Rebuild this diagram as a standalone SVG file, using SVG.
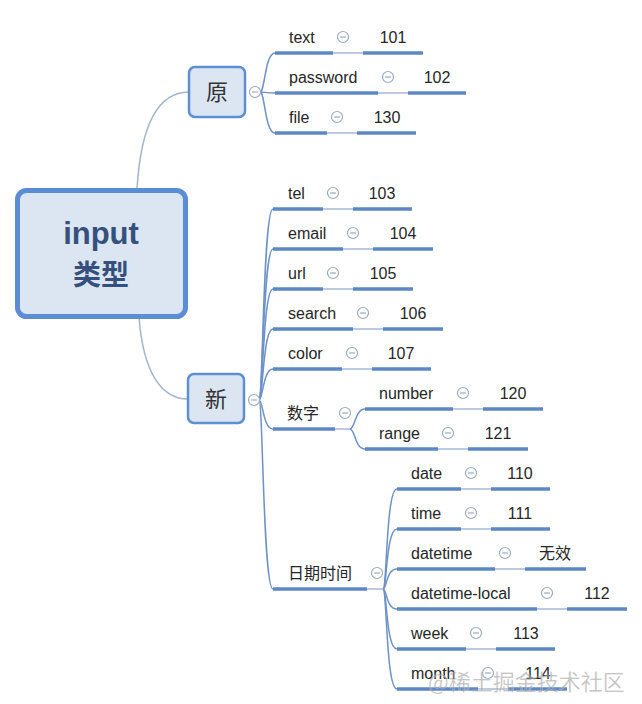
<svg xmlns="http://www.w3.org/2000/svg" width="642" height="704" viewBox="0 0 642 704">
<style>
.t{font-family:"Liberation Sans","Noto Sans CJK SC",sans-serif;font-size:16px;fill:#262626}
.v{font-family:"Liberation Sans","Noto Sans CJK SC",sans-serif;font-size:16px;fill:#262626;text-anchor:middle}
.ul{stroke:#5d88c4;stroke-width:3.5;fill:none}
.thin{stroke:#8ea7c9;stroke-width:1.2;fill:none}
.br{stroke:#6c92c8;stroke-width:1.5;fill:none}
.main{stroke:#a3b5cc;stroke-width:1.5;fill:none}
.col{fill:#fff;stroke:#9aaac0;stroke-width:1.2}
.colm{stroke:#9aaac0;stroke-width:1.2}
.sub{fill:#dce6f2;stroke:#5e8fd2;stroke-width:2.5}
.subt{font-family:"Noto Sans CJK SC","Liberation Sans",sans-serif;font-size:22px;fill:#333;text-anchor:middle}
</style>
<defs>
<g id="cbtn"><circle r="5.5" class="col"/><line x1="-3" y1="0" x2="3" y2="0" class="colm"/></g>
</defs>

<g id="connectors">
<path class="main" d="M137,189 C141,122 160,92 189,92"/>
<path class="main" d="M139,317 C143,370 160,399 188,399"/>
<!-- 原 children -->
<path class="br" d="M260,92 C265,92 265,53 275,53"/>
<path class="br" d="M260,92 C265,92 265,93 275,93"/>
<path class="br" d="M260,92 C265,92 265,133 275,133"/>
<!-- 新 children -->
<path class="br" d="M259,400 C263,400 263,209 273,209"/>
<path class="br" d="M259,400 C263,400 263,249 273,249"/>
<path class="br" d="M259,400 C263,400 263,289 273,289"/>
<path class="br" d="M259,400 C263,400 263,329 273,329"/>
<path class="br" d="M259,400 C263,400 263,369 273,369"/>
<path class="br" d="M259,400 C263,400 263,429 273,429"/>
<path class="br" d="M259,400 C263,400 263,589 273,589"/>
<!-- 数字 children -->
<line class="thin" x1="335" y1="429" x2="350" y2="429"/>
<path class="br" d="M350,429 C355,429 355,409 365,409"/>
<path class="br" d="M350,429 C355,429 355,449 365,449"/>
<!-- 日期时间 children -->
<line class="thin" x1="367" y1="589" x2="383" y2="589"/>
<path class="br" d="M383,589 C387,589 386,489 397,489"/>
<path class="br" d="M383,589 C387,589 386,529 397,529"/>
<path class="br" d="M383,589 C387,589 386,569 397,569"/>
<path class="br" d="M383,589 C387,589 386,609 397,609"/>
<path class="br" d="M383,589 C387,589 386,649 397,649"/>
<path class="br" d="M383,589 C387,589 386,689 397,689"/>
<!-- leaf to value -->
<line class="thin" x1="333" y1="53" x2="363" y2="53"/>
<line class="thin" x1="378" y1="93" x2="408" y2="93"/>
<line class="thin" x1="327" y1="133" x2="357" y2="133"/>
<line class="thin" x1="323" y1="209" x2="353" y2="209"/>
<line class="thin" x1="343" y1="249" x2="373" y2="249"/>
<line class="thin" x1="323" y1="289" x2="353" y2="289"/>
<line class="thin" x1="353" y1="329" x2="383" y2="329"/>
<line class="thin" x1="342" y1="369" x2="372" y2="369"/>
<line class="thin" x1="453" y1="409" x2="483" y2="409"/>
<line class="thin" x1="438" y1="449" x2="468" y2="449"/>
<line class="thin" x1="461" y1="489" x2="491" y2="489"/>
<line class="thin" x1="461" y1="529" x2="491" y2="529"/>
<line class="thin" x1="495" y1="569" x2="525" y2="569"/>
<line class="thin" x1="537" y1="609" x2="567" y2="609"/>
<line class="thin" x1="466" y1="649" x2="496" y2="649"/>
<line class="thin" x1="478" y1="689" x2="508" y2="689"/>
</g>

<g id="root">
<rect x="17.5" y="190.5" width="168" height="126" rx="9" fill="#dce6f2" stroke="#5b8dd4" stroke-width="5"/>
<text x="101" y="244" text-anchor="middle" font-family="Liberation Sans,Noto Sans CJK SC,sans-serif" font-weight="bold" font-size="31" fill="#35507c">input</text>
<text x="101" y="285" text-anchor="middle" font-family="Noto Sans CJK SC,sans-serif" font-weight="bold" font-size="28" fill="#35507c">类型</text>
</g>

<g id="n-yuan">
<rect class="sub" x="189" y="67" width="56" height="50" rx="6"/>
<text class="subt" x="217" y="100">原</text>
<use href="#cbtn" x="255" y="92"/>
</g>
<g id="n-xin">
<rect class="sub" x="188" y="374" width="56" height="49" rx="6"/>
<text class="subt" x="216" y="407">新</text>
<use href="#cbtn" x="254" y="400"/>
</g>

<g id="n-text"><text class="t" x="289" y="43">text</text><line class="ul" x1="275" y1="53" x2="333" y2="53"/><use href="#cbtn" x="343" y="37"/></g>
<g id="v-101"><text class="v" x="393" y="43">101</text><line class="ul" x1="363" y1="53" x2="423" y2="53"/></g>
<g id="n-password"><text class="t" x="289" y="83">password</text><line class="ul" x1="275" y1="93" x2="378" y2="93"/><use href="#cbtn" x="388" y="77"/></g>
<g id="v-102"><text class="v" x="437" y="83">102</text><line class="ul" x1="408" y1="93" x2="466" y2="93"/></g>
<g id="n-file"><text class="t" x="289" y="123">file</text><line class="ul" x1="275" y1="133" x2="327" y2="133"/><use href="#cbtn" x="337" y="117"/></g>
<g id="v-130"><text class="v" x="387" y="123">130</text><line class="ul" x1="357" y1="133" x2="416" y2="133"/></g>

<g id="n-tel"><text class="t" x="288" y="199">tel</text><line class="ul" x1="273" y1="209" x2="323" y2="209"/><use href="#cbtn" x="333" y="193"/></g>
<g id="v-103"><text class="v" x="382" y="199">103</text><line class="ul" x1="353" y1="209" x2="412" y2="209"/></g>
<g id="n-email"><text class="t" x="288" y="239">email</text><line class="ul" x1="273" y1="249" x2="343" y2="249"/><use href="#cbtn" x="353" y="233"/></g>
<g id="v-104"><text class="v" x="403" y="239">104</text><line class="ul" x1="373" y1="249" x2="433" y2="249"/></g>
<g id="n-url"><text class="t" x="288" y="279">url</text><line class="ul" x1="273" y1="289" x2="323" y2="289"/><use href="#cbtn" x="333" y="273"/></g>
<g id="v-105"><text class="v" x="383" y="279">105</text><line class="ul" x1="353" y1="289" x2="413" y2="289"/></g>
<g id="n-search"><text class="t" x="288" y="319">search</text><line class="ul" x1="273" y1="329" x2="353" y2="329"/><use href="#cbtn" x="363" y="313"/></g>
<g id="v-106"><text class="v" x="413" y="319">106</text><line class="ul" x1="383" y1="329" x2="443" y2="329"/></g>
<g id="n-color"><text class="t" x="288" y="359">color</text><line class="ul" x1="273" y1="369" x2="342" y2="369"/><use href="#cbtn" x="352" y="353"/></g>
<g id="v-107"><text class="v" x="401" y="359">107</text><line class="ul" x1="372" y1="369" x2="431" y2="369"/></g>

<g id="n-shuzi"><text class="t" x="287" y="419">数字</text><line class="ul" x1="273" y1="429" x2="335" y2="429"/><use href="#cbtn" x="345" y="413"/></g>
<g id="n-number"><text class="t" x="379" y="399">number</text><line class="ul" x1="365" y1="409" x2="453" y2="409"/><use href="#cbtn" x="463" y="393"/></g>
<g id="v-120"><text class="v" x="513" y="399">120</text><line class="ul" x1="483" y1="409" x2="543" y2="409"/></g>
<g id="n-range"><text class="t" x="379" y="439">range</text><line class="ul" x1="365" y1="449" x2="438" y2="449"/><use href="#cbtn" x="448" y="433"/></g>
<g id="v-121"><text class="v" x="498" y="439">121</text><line class="ul" x1="468" y1="449" x2="528" y2="449"/></g>

<g id="n-riqi"><text class="t" x="288" y="579">日期时间</text><line class="ul" x1="273" y1="589" x2="367" y2="589"/><use href="#cbtn" x="377" y="573"/></g>
<g id="n-date"><text class="t" x="411" y="479">date</text><line class="ul" x1="397" y1="489" x2="461" y2="489"/><use href="#cbtn" x="471" y="473"/></g>
<g id="v-110"><text class="v" x="520" y="479">110</text><line class="ul" x1="491" y1="489" x2="550" y2="489"/></g>
<g id="n-time"><text class="t" x="411" y="519">time</text><line class="ul" x1="397" y1="529" x2="461" y2="529"/><use href="#cbtn" x="471" y="513"/></g>
<g id="v-111"><text class="v" x="520" y="519">111</text><line class="ul" x1="491" y1="529" x2="550" y2="529"/></g>
<g id="n-datetime"><text class="t" x="411" y="559">datetime</text><line class="ul" x1="397" y1="569" x2="495" y2="569"/><use href="#cbtn" x="505" y="553"/></g>
<g id="v-wuxiao"><text class="v" x="555" y="559">无效</text><line class="ul" x1="525" y1="569" x2="586" y2="569"/></g>
<g id="n-datetime-local"><text class="t" x="411" y="599">datetime-local</text><line class="ul" x1="397" y1="609" x2="537" y2="609"/><use href="#cbtn" x="547" y="593"/></g>
<g id="v-112"><text class="v" x="597" y="599">112</text><line class="ul" x1="567" y1="609" x2="627" y2="609"/></g>
<g id="n-week"><text class="t" x="411" y="639">week</text><line class="ul" x1="397" y1="649" x2="466" y2="649"/><use href="#cbtn" x="476" y="633"/></g>
<g id="v-113"><text class="v" x="526" y="639">113</text><line class="ul" x1="496" y1="649" x2="555" y2="649"/></g>
<g id="n-month"><text class="t" x="411" y="679">month</text><line class="ul" x1="397" y1="689" x2="478" y2="689"/><use href="#cbtn" x="488" y="673"/></g>
<g id="v-114"><text class="v" x="538" y="679">114</text><line class="ul" x1="508" y1="689" x2="567" y2="689"/></g>

<text x="428" y="690" font-family="Noto Sans CJK SC,sans-serif" font-size="22" fill="#8a8a8a" fill-opacity="0.55" stroke="#ffffff" stroke-opacity="0.4" stroke-width="0.6">@稀土掘金技术社区</text>
</svg>
